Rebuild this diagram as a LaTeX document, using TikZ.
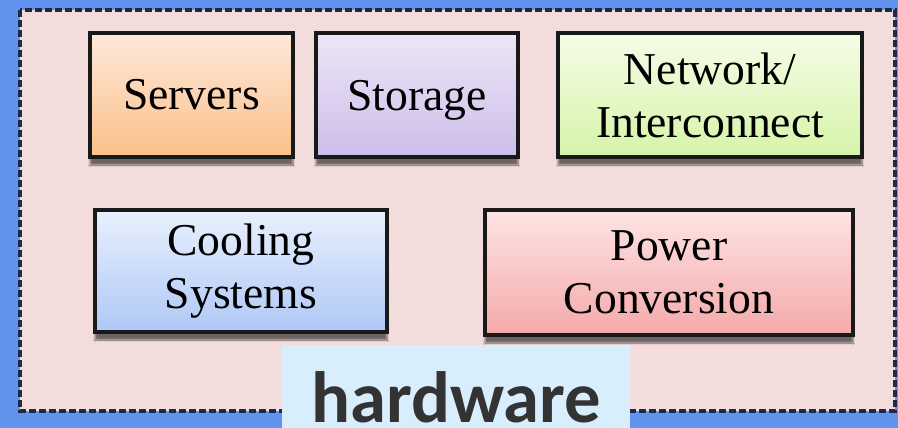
\documentclass[tikz,border=0pt]{standalone}
\usepackage{fontspec}
\setmainfont{Liberation Serif}
\newfontfamily\hwfont{Carlito}
\usetikzlibrary{shadows.blur}
\definecolor{bgblue}{HTML}{6193EE}
\definecolor{hwpink}{HTML}{F2DCDC}
\definecolor{hwline}{HTML}{1E2A44}
\definecolor{labelbg}{HTML}{D9EEFD}
\definecolor{srvtop}{HTML}{FDE8DA}
\definecolor{srvbot}{HTML}{FBC089}
\definecolor{stotop}{HTML}{EEE6F7}
\definecolor{stobot}{HTML}{CDBDEA}
\definecolor{nettop}{HTML}{F6FCE8}
\definecolor{netbot}{HTML}{D5F4A8}
\definecolor{cooltop}{HTML}{E9F0FD}
\definecolor{coolbot}{HTML}{AEC8F6}
\definecolor{pwrtop}{HTML}{FDE4E4}
\definecolor{pwrbot}{HTML}{F5A9A9}

\begin{document}
\begin{tikzpicture}[x=1pt,y=-1pt,
  part/.style={draw=black!90,line width=3.2pt,inner sep=0pt,align=center,
    font=\fontsize{45.6}{53}\selectfont,text=black,
    blur shadow={shadow xshift=0pt,shadow yshift=-8pt,shadow blur steps=8,shadow opacity=55}},
  orangebox/.style={part,top color=srvtop,bottom color=srvbot},
  violetbox/.style={part,top color=stotop,bottom color=stobot},
  greenbox/.style={part,top color=nettop,bottom color=netbot},
  bluebox/.style={part,top color=cooltop,bottom color=coolbot},
  redbox/.style={part,top color=pwrtop,bottom color=pwrbot}]
  \fill[bgblue] (0,0) rectangle (898,428);
  \draw[fill=hwpink,draw=hwline,line width=3.2pt,dash pattern=on 7pt off 3pt] (20,10) rectangle (895,411);
  \node[orangebox,minimum width=203pt,minimum height=124pt] (srv) at (191.5,95) {Servers};
  \node[violetbox,minimum width=202pt,minimum height=124pt,text depth=0pt] (sto) at (417,95) {Storage};
  \node[greenbox,minimum width=304pt,minimum height=124pt] (net) at (710,95) {Network/\\Interconnect};
  \node[bluebox,minimum width=292pt,minimum height=122pt] (cool) at (241,271) {Cooling\\Systems};
  \node[redbox,minimum width=368pt,minimum height=125pt] (pwr) at (669,272.5) {Power\\Conversion};
  \node[fill=labelbg,inner sep=0pt,minimum width=348pt,minimum height=83pt,
    text height=71pt,text depth=0pt,text=black!80,
    font=\hwfont\bfseries\fontsize{72.6}{80}\selectfont] (hw) at (456,386.5) {hardware};
\end{tikzpicture}
\end{document}
